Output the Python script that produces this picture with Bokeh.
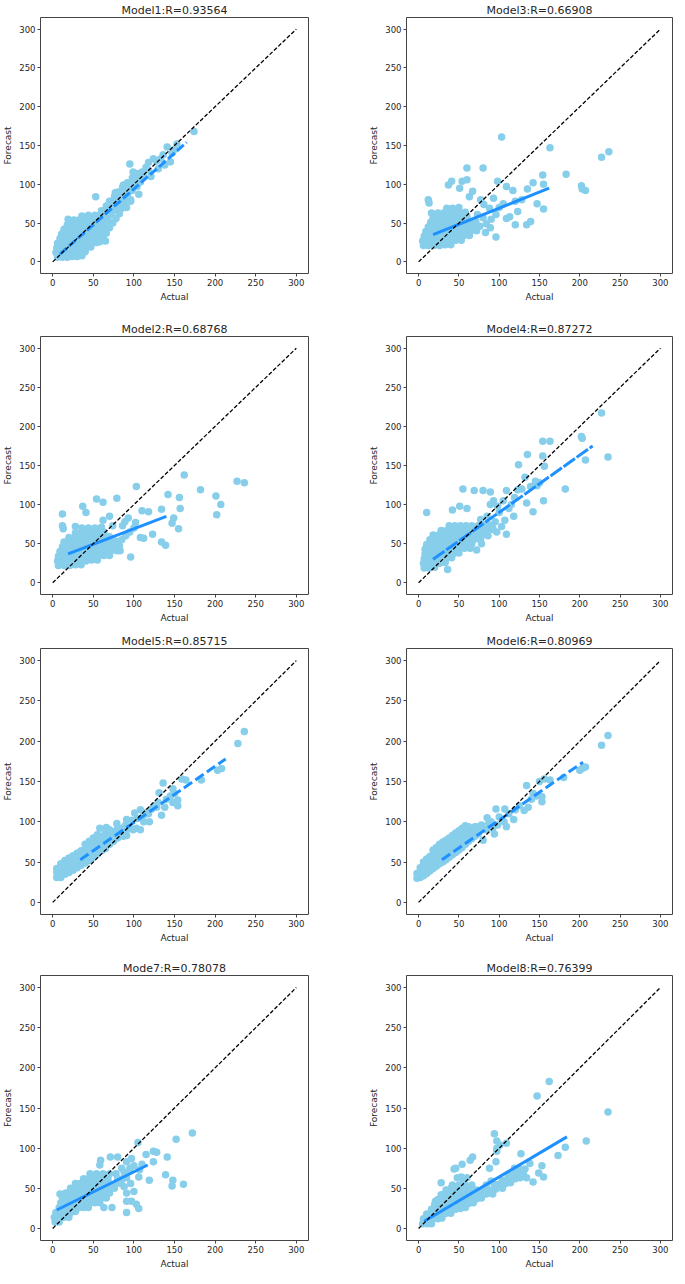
from bokeh.plotting import figure
from bokeh.layouts import column, row
from bokeh.models import Range1d, FixedTicker
from bokeh.embed import file_html
from bokeh.resources import INLINE

ticks = [0, 50, 100, 150, 200, 250, 300]
diag = [0, 300]

titles = ["Model1:R=0.93564", "Model3:R=0.66908", "Model2:R=0.68768", "Model4:R=0.87272",
          "Model5:R=0.85715", "Model6:R=0.80969", "Mode7:R=0.78078", "Model8:R=0.76399"]

m1_pts = [
 (6,6),(12,6),(18,6),(24,7),(30,7),(36,8),
 (4,12),(10,12),(16,12),(22,12),(28,12),(34,12),(40,13),
 (5,18),(11,18),(17,18),(23,18),(29,18),(35,18),(41,18),(47,19),
 (6,24),(12,24),(18,24),(24,24),(30,24),(36,24),(42,24),(48,24),(54,25),
 (9,30),(15,30),(21,30),(27,30),(33,30),(39,30),(45,30),(51,30),(57,31),(62,30),
 (11,36),(17,36),(23,36),(29,36),(35,36),(41,36),(47,36),(53,36),(59,37),(66,37),
 (14,42),(20,42),(26,42),(32,42),(38,42),(44,42),(50,42),(56,42),(62,43),(70,44),
 (18,48),(24,48),(30,48),(36,48),(42,48),(48,48),(54,48),(60,48),(66,49),(74,50),
 (26,54),(32,54),(38,54),(44,54),(50,54),(56,54),(62,55),(68,55),(78,56),
 (36,59),(44,60),(52,60),(58,60),(64,61),(72,61),(82,62),
 (60,66),(68,66),(76,67),(84,68),
 (66,72),(74,72),(82,73),(88,74),
 (70,78),(78,78),(88,80),(96,80),
 (76,84),(82,84),(92,86),
 (80,90),(88,90),(98,92),
 (86,96),(94,96),(104,97),
 (92,102),(100,102),(108,103),
 (98,108),(106,108),(112,110),
 (104,114),(110,116),(118,118),
 (53,84),(19,55),(95,126),(99,116),(87,99),(102,104),(106,87),(96,78),(91,70),(84,87),(77,89),
 (61,28),(65,27),(58,26),
 (124,133),(128,130),(133,133),(138,125),(141,148),(145,129),(147,140),(150,145),(153,152),(174,168),
 (118,128),(130,120),(121,110),(136,138),(115,122)
]

m3_pts = [
 (6,21),(12,21),(19,21),(26,21),(33,22),(40,22),
 (5,27),(11,27),(18,27),(25,27),(32,27),(39,27),(46,28),(53,28),
 (7,33),(14,33),(21,33),(28,33),(35,33),(42,33),(49,33),(56,34),(63,34),
 (9,39),(16,39),(23,39),(30,39),(37,39),(44,39),(51,39),(58,39),(65,40),(72,40),
 (12,45),(19,45),(26,45),(33,45),(40,45),(47,45),(54,45),(61,45),(68,46),(76,46),
 (15,51),(22,51),(29,51),(36,51),(43,51),(50,51),(57,51),(64,52),(71,52),
 (18,57),(25,57),(32,57),(39,57),(46,57),(53,57),(60,58),
 (24,63),(31,63),(38,63),(45,63),(52,63),(58,64),
 (35,69),(42,69),(50,70),
 (103,161),(163,147),(227,135),(236,142),(183,113),(154,112),(142,102),(135,94),(155,100),
 (155,68),(147,75),(202,98),(203,94),(207,92),(60,121),(80,121),(98,104),(109,97),(117,92),
 (123,65),(120,48),(134,48),(139,52),(109,56),(113,58),(96,32),(96,61),(88,69),(93,82),
 (12,80),(13,76),(41,104),(37,99),(51,95),(54,104),(60,106),(67,91),(63,84),(16,63),
 (81,74),(77,80),(73,61),(84,49),(89,44),(83,38),(120,78),(100,70),(105,75),(128,80),(90,55),(80,57)
]

m2_pts = [
 (7,22),(14,22),(21,22),(28,23),(35,23),
 (6,28),(13,28),(20,28),(27,28),(34,28),(41,28),(48,29),(55,29),
 (7,34),(14,34),(21,34),(28,34),(35,34),(42,34),(49,34),(56,34),(63,35),(70,35),
 (9,40),(16,40),(23,40),(30,40),(37,40),(44,40),(51,40),(58,40),(65,40),(72,41),(79,41),
 (12,46),(19,46),(26,46),(33,46),(40,46),(47,46),(54,46),(61,46),(68,46),(75,47),(82,47),
 (14,52),(21,52),(28,52),(35,52),(42,52),(49,52),(56,52),(63,52),(70,53),(78,53),
 (20,58),(27,58),(34,58),(41,58),(48,58),(55,58),(62,58),(70,59),
 (28,64),(35,64),(42,64),(49,64),(56,64),(63,65),
 (36,70),(44,70),(52,70),(60,71),
 (162,138),(103,123),(182,119),(227,130),(236,128),(201,111),(207,100),(202,87),(142,113),
 (156,109),(157,95),(155,69),(147,76),(149,83),(134,94),(118,91),(110,92),(123,62),(134,52),
 (139,48),(96,33),(108,58),(112,57),(102,77),(89,78),(93,83),(83,41),(54,107),(62,103),
 (37,98),(41,90),(12,88),(12,73),(13,69),(28,72),(79,108),(70,85),(62,80),(74,73),(86,73),
 (95,65),(100,70),(90,60),(85,55)
]

m4_pts = [
 (7,19),(13,19),(20,20),
 (6,25),(12,25),(19,25),(26,25),(33,26),
 (7,31),(13,31),(20,31),(27,31),(34,31),(41,32),
 (8,37),(15,37),(22,37),(29,37),(36,37),(43,37),(50,38),
 (8,43),(15,43),(22,43),(29,43),(36,43),(43,43),(50,43),(57,44),(64,44),
 (10,49),(17,49),(24,49),(31,49),(38,49),(45,49),(52,49),(59,49),(66,50),
 (14,55),(21,55),(28,55),(35,55),(42,55),(49,55),(56,55),(63,55),(70,56),(77,56),
 (18,61),(25,61),(32,61),(39,61),(46,61),(53,61),(60,61),(67,61),(74,62),(81,62),
 (28,67),(35,67),(42,67),(49,67),(56,67),(63,67),(70,67),(77,68),(84,68),(91,68),
 (38,73),(45,73),(52,73),(59,73),(66,73),(80,74),(88,74),
 (36,17),(10,90),(42,93),(60,95),(51,98),(55,120),(69,118),(80,118),(89,116),(109,118),
 (123,119),(119,109),(134,102),(155,105),(142,91),(118,85),(107,80),(109,62),(89,100),
 (93,105),(98,98),(85,85),(77,81),(74,73),(227,217),(202,187),(203,185),(154,181),(163,181),
 (235,161),(207,157),(124,151),(135,164),(154,162),(156,149),(132,135),(139,123),(147,124),
 (182,120),(100,90),(95,78),(103,72),(97,65),(86,60),(78,50),(72,42),(92,70),(112,95),
 (115,100),(105,105),(128,120),(145,130),(150,128)
]

m5_pts = [
 (5,31),(5,37),(5,42),
 (10,31),(10,37),(10,43),(10,48),
 (15,35),(15,41),(15,47),(15,52),
 (20,37),(20,43),(20,49),(20,55),
 (25,40),(25,46),(25,52),(25,58),
 (30,43),(30,49),(30,55),(30,61),
 (35,46),(35,52),(35,58),(35,64),
 (40,49),(40,55),(40,61),(40,67),(40,72),
 (45,52),(45,58),(45,64),(45,70),(45,76),
 (50,56),(50,62),(50,68),(50,74),(50,80),
 (55,60),(55,66),(55,72),(55,78),(55,84),
 (60,64),(60,70),(60,76),(60,82),(58,92),
 (65,67),(65,73),(65,79),(65,86),(66,93),
 (70,72),(70,78),(70,84),(70,90),
 (75,76),(75,82),(75,88),
 (80,80),(80,86),(80,92),
 (85,85),(85,92),
 (90,88),(90,96),
 (95,92),(98,102),(104,104),(108,115),(101,111),(91,103),(119,100),(103,92),(108,90),
 (99,90),(91,83),(87,82),(79,98),(112,108),(116,112),(122,116),(128,118),(131,136),
 (134,108),(138,118),(136,148),(148,124),(150,135),(154,127),(154,120),(148,141),
 (159,153),(164,152),(183,152),(203,164),(208,166),(228,197),(236,212),(140,128),
 (145,132),(125,120),(130,124),(118,110),(112,100)
]

m6_pts = [
 (-2,30),(-2,36),
 (2,31),(2,37),(2,43),
 (6,33),(6,39),(6,45),(6,50),
 (10,36),(10,42),(10,48),(10,54),
 (14,39),(14,45),(14,51),(14,57),
 (18,42),(18,48),(18,54),(18,60),(18,65),
 (22,45),(22,51),(22,57),(22,63),(22,68),
 (26,48),(26,54),(26,60),(26,66),(26,72),
 (30,50),(30,56),(30,62),(30,68),(30,75),
 (34,53),(34,59),(34,65),(34,71),(34,77),
 (38,56),(38,62),(38,68),(38,74),(38,80),
 (42,59),(42,65),(42,71),(42,77),(42,83),
 (46,62),(46,68),(46,74),(46,80),(46,86),
 (50,65),(50,71),(50,77),(50,83),(50,89),
 (54,68),(54,74),(54,80),(54,86),(54,92),
 (58,72),(58,78),(58,84),(58,90),(58,95),
 (62,76),(62,82),(62,88),(62,94),
 (66,79),(66,85),(66,91),
 (70,82),(70,88),(70,94),
 (74,85),(74,92),
 (78,90),(78,96),
 (235,207),(227,195),(200,164),(207,168),(203,166),(180,155),(156,153),(163,152),(150,150),
 (134,145),(131,114),(136,118),(153,125),(153,131),(146,132),(142,135),(118,103),(106,100),
 (96,116),(107,116),(94,85),(98,96),(87,98),(80,77),(71,94),(61,94),(75,88),(109,94),
 (85,105),(90,100),(100,106),(112,110),(120,115),(125,120),(140,128),(84,90),(92,92)
]

m7_pts = [
 (3,8),(8,8),
 (2,14),(8,14),(14,14),(20,14),
 (4,20),(10,20),(16,20),(22,20),(28,21),
 (8,26),(14,26),(20,26),(26,26),(32,26),(38,26),(44,26),
 (10,32),(16,32),(22,32),(28,32),(34,32),(40,32),(46,32),(52,32),(58,32),
 (12,38),(18,38),(24,38),(30,38),(36,38),(42,38),(48,38),(54,38),(60,38),(66,38),
 (16,44),(22,44),(28,44),(34,44),(40,44),(46,44),(52,44),(58,44),(64,44),(70,44),
 (22,50),(28,50),(34,50),(40,50),(46,50),(52,50),(58,50),(64,50),(70,50),(76,50),
 (28,56),(34,56),(40,56),(46,56),(52,56),(58,56),(64,56),(70,56),(78,56),(84,56),
 (38,62),(44,62),(50,62),(56,62),(62,62),(68,62),(80,62),(86,62),
 (46,68),(54,68),(62,68),(70,68),(78,68),
 (172,119),(152,111),(105,107),(141,89),(124,96),(128,95),(124,83),(115,92),(139,67),
 (148,60),(147,53),(161,55),(119,60),(106,64),(91,44),(100,46),(97,34),(91,34),(91,20),
 (106,25),(103,30),(73,26),(63,26),(80,89),(71,89),(58,79),(59,85),(91,83),(97,87),(85,75),
 (9,43),(107,73),(95,72),(100,78),(88,70),(110,80),(83,59),(91,63),(95,75),(88,52),(96,56)
]

m8_pts = [
 (5,6),(11,6),(16,6),
 (6,12),(12,12),(18,12),(24,12),(29,13),
 (10,18),(16,18),(22,18),(28,18),(34,19),(40,19),
 (16,24),(22,24),(28,24),(34,24),(40,24),(46,24),(52,25),(58,26),
 (20,30),(26,30),(32,30),(38,30),(44,30),(50,30),(56,30),(62,31),(68,32),
 (24,36),(30,36),(36,36),(42,36),(48,36),(54,36),(60,36),(66,36),(72,37),(78,38),
 (28,42),(34,42),(40,42),(46,42),(52,42),(58,42),(64,42),(70,42),(76,42),(84,43),(90,44),
 (34,48),(40,48),(46,48),(52,48),(58,48),(64,48),(72,48),(80,48),(88,48),(96,49),(104,50),
 (42,54),(50,54),(58,54),(66,54),(84,54),(100,55),(108,56),(114,57),
 (56,60),(104,60),(112,61),(120,62),(126,63),
 (112,66),(118,67),(124,68),(130,68),
 (120,72),(126,73),(132,74),
 (235,145),(162,183),(147,165),(208,109),(182,101),(173,91),(153,78),(149,69),(155,64),
 (142,58),(134,63),(127,93),(138,81),(119,75),(94,118),(97,109),(101,104),(97,100),(97,96),
 (109,106),(96,83),(88,75),(67,89),(64,85),(54,80),(46,75),(92,43),(80,43),(94,55),(28,57),
 (53,64),(60,63),(48,63),(40,50),(21,34),(31,42),(44,74),(90,59),(111,63),(121,69),(127,73)
]

reg1_x, reg1_y = [9, 165], [10, 154]
reg3_x, reg3_y = [18, 162], [35, 95]
reg2_x, reg2_y = [19, 140], [37, 85]
reg4_x, reg4_y = [18, 216], [30, 175]
reg5_x, reg5_y = [34, 213], [53, 178]
reg6_x, reg6_y = [29, 204], [53, 174]
reg7_x, reg7_y = [5, 117], [23, 79]
reg8_x, reg8_y = [7, 184], [9, 114]

PTS = [m1_pts, m3_pts, m2_pts, m4_pts, m5_pts, m6_pts, m7_pts, m8_pts]
REGS = [(reg1_x, reg1_y), (reg3_x, reg3_y), (reg2_x, reg2_y), (reg4_x, reg4_y),
        (reg5_x, reg5_y), (reg6_x, reg6_y), (reg7_x, reg7_y), (reg8_x, reg8_y)]
DASHES = ["9 3", "solid", "solid", "14 2", "10 4", "10 4", "solid", "solid"]

TEXT = "#262626"
EDGE = "#444444"
FONT = "DejaVu Sans"

# rows: (top, frame_h, bottom)
ROWS = [(16, 256, 46), (16, 258, 37), (16, 266, 44), (16, 265, 30)]


def make(i, left_col):
    top, fh, bot = ROWS[i // 2]
    if left_col:
        mbl, fw, mbr = 36, 268, 48
    else:
        mbl, fw, mbr = 50, 266, 1
    p = figure(frame_width=fw, frame_height=fh, min_border_left=mbl, min_border_right=mbr,
               min_border_top=top, min_border_bottom=bot,
               x_range=Range1d(-15, 315), y_range=Range1d(-15, 315),
               output_backend="svg", toolbar_location=None, title=titles[i])
    p.title.align = "center"
    p.title.text_font = FONT
    p.title.text_font_size = "11px"
    p.title.text_font_style = "normal"
    p.title.text_color = TEXT
    p.title.standoff = 2
    p.grid.visible = False
    p.outline_line_color = EDGE
    p.outline_line_width = 1
    p.outline_line_alpha = 1
    p.background_fill_color = "white"
    p.border_fill_color = "white"
    for ax, lab in ((p.xaxis, "Actual"), (p.yaxis, "Forecast")):
        ax.axis_label = lab
        ax.ticker = FixedTicker(ticks=ticks)
        ax.axis_line_color = None
        ax.major_tick_in = 0
        ax.major_tick_out = 3
        ax.major_tick_line_color = EDGE
        ax.minor_tick_line_color = None
        ax.major_label_text_font = FONT
        ax.major_label_text_font_size = "8.5px"
        ax.major_label_text_color = TEXT
        ax.major_label_standoff = 2
        ax.axis_label_text_font = FONT
        ax.axis_label_text_font_size = "9px"
        ax.axis_label_text_font_style = "normal"
        ax.axis_label_text_color = TEXT
        ax.axis_label_standoff = 3
    pts = PTS[i]
    xs = [a for a, b in pts]
    ys = [b for a, b in pts]
    p.scatter(xs, ys, size=7.5, fill_color="#87CEEB", line_color="#87CEEB", line_width=0)
    rx, ry = REGS[i]
    p.line(rx, ry, line_color="#1E90FF", line_width=3, line_dash=DASHES[i])
    p.line(diag, diag, line_color="black", line_width=1.3, line_dash="4 2")
    return p


figs = [make(i, i % 2 == 0) for i in range(8)]
layout = column(row(figs[0], figs[1]), row(figs[2], figs[3]),
                row(figs[4], figs[5]), row(figs[6], figs[7]))

open("out.html", "w").write(file_html(layout, INLINE))
